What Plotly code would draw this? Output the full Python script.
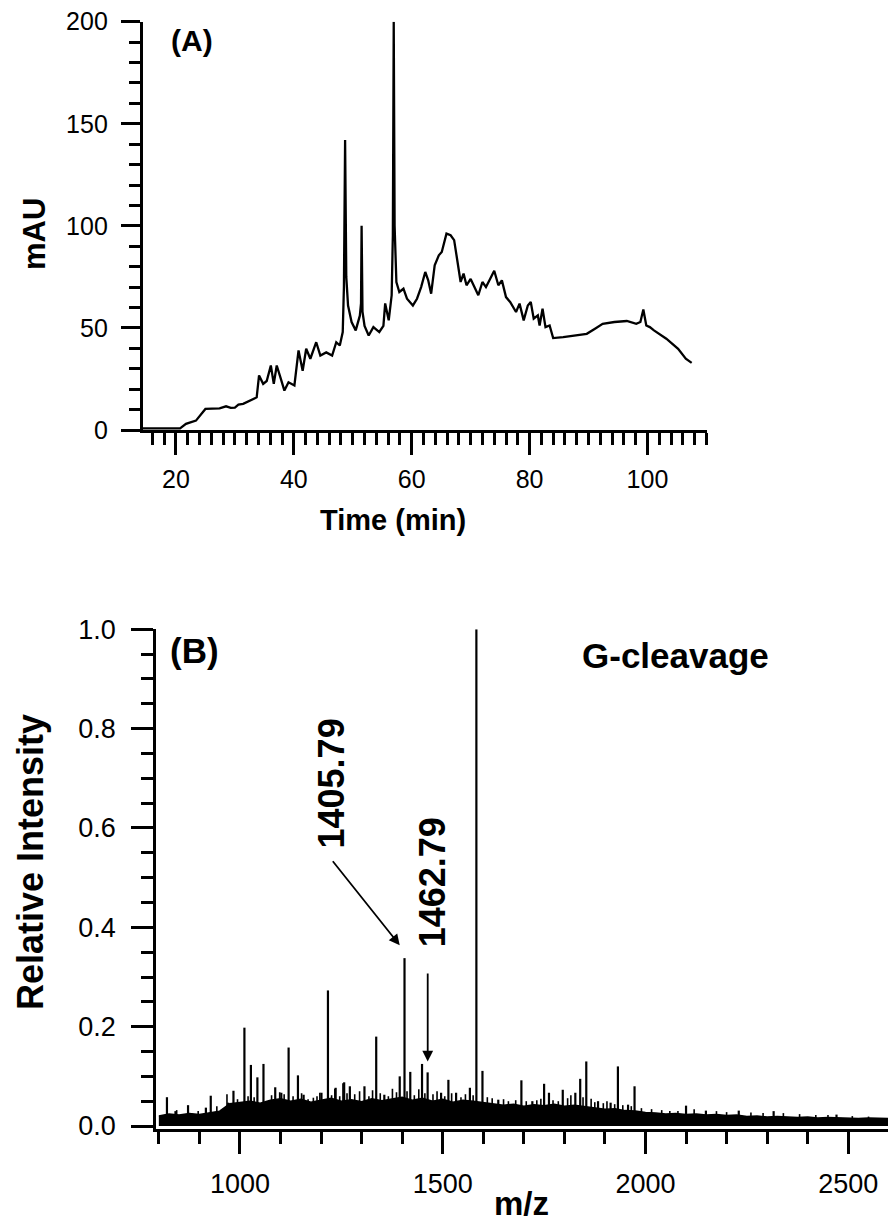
import plotly.graph_objects as go

# ---------------- Data: panel A (chromatogram) ----------------
time_min = [14.4, 16.0, 18.0, 20.0, 20.7, 21.7, 23.4, 25.0, 26.0, 27.4, 28.5, 29.3, 30.0, 30.6,
            31.4, 32.7, 33.7, 34.1, 34.8, 35.4, 36.1, 36.6, 37.1, 37.8, 38.4, 39.1, 40.1, 40.8,
            41.5, 42.1, 42.8, 43.8, 44.5, 45.5, 46.5, 47.2, 47.8, 48.3, 48.5, 48.7, 48.9, 49.2,
            49.8, 50.5, 51.2, 51.4, 51.5, 51.65, 52.0, 52.7, 53.5, 54.5, 55.2, 55.5, 56.1, 56.6,
            56.8, 56.95, 57.1, 57.4, 57.9, 58.6, 59.2, 60.2, 60.9, 61.6, 62.3, 62.8, 63.3, 63.9,
            64.6, 65.1, 65.5, 65.9, 66.6, 67.2, 67.6, 68.3, 68.8, 69.3, 70.0, 70.6, 71.3, 72.0,
            72.6, 73.3, 74.0, 74.7, 75.3, 76.0, 76.7, 77.7, 78.3, 79.0, 79.7, 80.2, 80.7, 81.4,
            81.7, 82.2, 82.7, 83.4, 84.0, 85.7, 87.7, 89.7, 91.1, 92.4, 94.4, 96.5, 98.1, 98.8,
            99.3, 99.8, 100.4, 101.1, 103.2, 105.2, 106.5, 107.5]
mau = [0.8, 0.8, 0.6, 0.5, 0.8, 3.0, 4.6, 10.3, 10.3, 10.6, 11.6, 10.8, 11.0, 12.4,
       12.8, 14.4, 16.0, 26.7, 22.6, 24.0, 31.6, 22.6, 31.6, 25.0, 19.3, 23.4, 21.8, 39.0,
       29.0, 39.8, 34.9, 43.0, 36.5, 38.0, 36.5, 43.0, 41.4, 48.0, 70.0, 142.0, 75.0, 61.0,
       52.9, 48.8, 56.0, 62.0, 100.0, 58.0, 51.0, 46.3, 50.4, 48.0, 51.0, 62.0, 53.7, 66.0,
       95.0, 200.0, 100.0, 72.5, 67.6, 69.2, 64.3, 61.0, 64.3, 70.0, 77.4, 73.3, 66.8, 80.7,
       85.6, 87.2, 92.0, 96.2, 95.4, 93.0, 85.6, 72.5, 76.6, 70.9, 74.0, 70.0, 66.0, 72.5,
       70.0, 74.0, 78.0, 70.9, 73.3, 65.1, 62.7, 57.8, 61.9, 53.7, 61.0, 62.7, 54.5, 56.1,
       51.2, 59.4, 50.4, 51.2, 45.0, 45.5, 46.3, 47.1, 49.6, 52.0, 52.9, 53.4, 52.0, 52.9,
       59.0, 51.2, 50.4, 48.8, 44.7, 39.8, 34.9, 32.9]

# ---------------- Data: panel B (mass spectrum) ----------------
# dense baseline envelope (upper edge of the black band)
env_mz = [800, 825, 850, 875, 900, 925, 950, 975, 1000, 1025, 1050, 1075, 1100, 1125, 1150,
          1175, 1200, 1225, 1250, 1275, 1300, 1325, 1350, 1375, 1400, 1425, 1450, 1475, 1500,
          1525, 1550, 1575, 1600, 1625, 1650, 1675, 1700, 1725, 1750, 1775, 1800, 1825, 1850,
          1875, 1900, 1925, 1950, 1975, 2000, 2025, 2050, 2075, 2100, 2125, 2150, 2175, 2200,
          2225, 2250, 2275, 2300, 2325, 2350, 2375, 2400, 2425, 2450, 2475, 2500, 2525, 2550,
          2575, 2600]
env_int = [0.020, 0.024, 0.022, 0.025, 0.023, 0.027, 0.030, 0.045, 0.048, 0.050, 0.046, 0.052,
           0.055, 0.050, 0.054, 0.048, 0.052, 0.056, 0.050, 0.053, 0.049, 0.055, 0.051, 0.054,
           0.058, 0.052, 0.056, 0.050, 0.054, 0.048, 0.052, 0.050, 0.047, 0.045, 0.042, 0.044,
           0.040, 0.043, 0.041, 0.044, 0.040, 0.042, 0.039, 0.036, 0.034, 0.035, 0.031, 0.030,
           0.027, 0.026, 0.024, 0.025, 0.023, 0.024, 0.022, 0.023, 0.021, 0.022, 0.019, 0.020,
           0.018, 0.019, 0.018, 0.017, 0.018, 0.016, 0.017, 0.016, 0.016, 0.015, 0.016, 0.015,
           0.015]

# labelled / prominent peaks (m/z, relative intensity)
peak_mz = [820, 841, 872, 916, 928, 971, 984, 1011, 1027, 1043, 1058, 1087, 1102, 1120, 1143,
           1157, 1201, 1217, 1236, 1257, 1271, 1307, 1336, 1356, 1394, 1405.79, 1420, 1449,
           1462.79, 1496, 1514, 1533, 1567, 1583, 1598, 1637, 1694, 1721, 1750, 1762, 1796,
           1827, 1839, 1854, 1883, 1914, 1932, 1957, 1973, 2100, 2149, 2230, 2316, 2471]
peak_int = [0.058, 0.030, 0.042, 0.037, 0.061, 0.047, 0.071, 0.198, 0.123, 0.098, 0.125, 0.078,
            0.067, 0.158, 0.102, 0.063, 0.067, 0.273, 0.077, 0.088, 0.080, 0.080, 0.180, 0.063,
            0.100, 0.338, 0.109, 0.125, 0.108, 0.067, 0.093, 0.067, 0.077, 1.000, 0.111, 0.053,
            0.092, 0.050, 0.085, 0.067, 0.073, 0.067, 0.095, 0.130, 0.050, 0.047, 0.120, 0.043,
            0.080, 0.041, 0.031, 0.031, 0.030, 0.023]

# small hair-like peaks on top of the dense band
minor_mz = [844, 897, 943, 968, 994, 1020, 1035, 1069, 1078, 1098, 1109, 1131, 1152, 1168,
            1181, 1190, 1197, 1226, 1234, 1246, 1254, 1264, 1283, 1295, 1318, 1327, 1346, 1366,
            1376, 1386, 1412, 1430, 1441, 1456, 1476, 1486, 1505, 1522, 1545, 1556, 1575, 1610,
            1622, 1650, 1662, 1680, 1706, 1732, 1742, 1772, 1785, 1808, 1816, 1846, 1866, 1875,
            1896, 1905, 1924, 1944, 1965, 1990, 2015, 2040, 2060, 2080, 2120, 2175, 2200, 2260,
            2290, 2340, 2380, 2420, 2450, 2510, 2550]
minor_int = [0.032, 0.030, 0.040, 0.064, 0.054, 0.060, 0.058, 0.050, 0.062, 0.068, 0.064, 0.060,
             0.066, 0.054, 0.057, 0.060, 0.067, 0.062, 0.075, 0.060, 0.086, 0.066, 0.064, 0.070,
             0.060, 0.072, 0.066, 0.060, 0.075, 0.068, 0.070, 0.062, 0.074, 0.066, 0.064, 0.070,
             0.060, 0.066, 0.058, 0.064, 0.062, 0.058, 0.056, 0.054, 0.050, 0.052, 0.050, 0.052,
             0.055, 0.052, 0.050, 0.056, 0.062, 0.058, 0.055, 0.048, 0.046, 0.050, 0.044, 0.042,
             0.040, 0.036, 0.034, 0.032, 0.030, 0.030, 0.034, 0.030, 0.028, 0.027, 0.026, 0.026,
             0.024, 0.022, 0.022, 0.020, 0.019]

# ---------------- Layout helpers (pixel geometry) ----------------
W, H = 888, 1227
FONT = "Liberation Sans, Arial, sans-serif"


def px_x(p):
    return p / W


def px_y(p):
    return 1 - p / H


fig = go.Figure()

fig.add_trace(go.Scatter(x=time_min, y=mau, mode="lines",
                         line=dict(color="black", width=2.3), xaxis="x", yaxis="y",
                         showlegend=False, hoverinfo="skip"))

fig.add_trace(go.Scatter(x=env_mz, y=env_int, mode="lines", fill="tozeroy",
                         fillcolor="black", line=dict(color="black", width=1.5),
                         xaxis="x2", yaxis="y2", showlegend=False, hoverinfo="skip"))


def sticks(mz_list, int_list):
    sx, sy = [], []
    for m, h in zip(mz_list, int_list):
        sx += [m, m, None]
        sy += [0, h, None]
    return sx, sy


mx, my = sticks(minor_mz, minor_int)
fig.add_trace(go.Scatter(x=mx, y=my, mode="lines",
                         line=dict(color="black", width=1.6), xaxis="x2", yaxis="y2",
                         showlegend=False, hoverinfo="skip"))

px_, py_ = sticks(peak_mz, peak_int)
fig.add_trace(go.Scatter(x=px_, y=py_, mode="lines",
                         line=dict(color="black", width=2.2), xaxis="x2", yaxis="y2",
                         showlegend=False, hoverinfo="skip"))

axis_common = dict(showline=True, linecolor="black", linewidth=2.8, ticks="outside",
                   tickcolor="black", tickwidth=2.5, showgrid=False, zeroline=False,
                   automargin=False, mirror=False)

fig.update_layout(
    width=W, height=H, margin=dict(l=0, r=0, t=0, b=0),
    paper_bgcolor="white", plot_bgcolor="white",
    font=dict(family=FONT, color="black"),
    xaxis=dict(**axis_common, domain=[px_x(142.7), px_x(706.7)], range=[14.36, 110.05],
               anchor="y", dtick=20, tick0=0, ticklen=22,
               tickfont=dict(size=25, family=FONT), ticklabelstandoff=3,
               minor=dict(dtick=2, tick0=0, ticklen=12, tickwidth=2.5, tickcolor="black",
                          ticks="outside")),
    yaxis=dict(**axis_common, domain=[px_y(430), px_y(21.7)], range=[0, 200],
               anchor="x", dtick=50, tick0=0, ticklen=19,
               tickfont=dict(size=25, family=FONT), ticklabelstandoff=8,
               minor=dict(dtick=10, tick0=0, ticklen=11, tickwidth=2.5, tickcolor="black",
                          ticks="outside")),
    xaxis2=dict(**axis_common, domain=[px_x(156), 1.0], range=[793, 2598],
                anchor="y2", dtick=500, tick0=0, ticklen=22,
                tickfont=dict(size=27, family=FONT), ticklabelstandoff=7,
                minor=dict(dtick=100, tick0=0, ticklen=12, tickwidth=2.5, tickcolor="black",
                           ticks="outside")),
    yaxis2=dict(**axis_common, domain=[px_y(1129), px_y(629.3)], range=[-0.006, 1.0],
                anchor="x2", dtick=0.2, tick0=0, tickformat=".1f", ticklen=22,
                tickfont=dict(size=27, family=FONT), ticklabelstandoff=10,
                minor=dict(dtick=0.05, tick0=0, ticklen=12, tickwidth=2.5, tickcolor="black",
                           ticks="outside")),
)


def bold(s):
    return "<b>" + s + "</b>"


C = dict(xanchor="center", yanchor="middle", showarrow=False)

ann = [
    # panel labels
    dict(text=bold("(A)"), x=22.7, y=190.9, xref="x", yref="y",
         font=dict(size=30, family=FONT), **C),
    dict(text=bold("(B)"), x=887, y=0.958, xref="x2", yref="y2",
         font=dict(size=35, family=FONT), **C),
    dict(text=bold("G-cleavage"), x=2075, y=0.948, xref="x2", yref="y2",
         font=dict(size=35, family=FONT), **C),
    dict(text=bold("1405.79"), x=1225, y=0.69, xref="x2", yref="y2",
         textangle=-90, font=dict(size=36, family=FONT), **C),
    dict(text=bold("1462.79"), x=1474, y=0.491, xref="x2", yref="y2",
         textangle=-90, font=dict(size=36, family=FONT), **C),
    # arrows
    dict(text="", x=1394, y=0.364, ax=1226, ay=0.536, xref="x2", yref="y2",
         axref="x2", ayref="y2", showarrow=True, arrowhead=2, arrowsize=1.2,
         arrowwidth=1.8, arrowcolor="black", standoff=0, startstandoff=0),
    dict(text="", x=1463, y=0.13, ax=1463, ay=0.31, xref="x2", yref="y2",
         axref="x2", ayref="y2", showarrow=True, arrowhead=2, arrowsize=1.2,
         arrowwidth=1.8, arrowcolor="black", standoff=0, startstandoff=0),
    # axis titles
    dict(text=bold("Time (min)"), x=px_x(393), y=px_y(520), xref="paper", yref="paper",
         font=dict(size=29, family=FONT), **C),
    dict(text=bold("mAU"), x=px_x(34), y=px_y(234), xref="paper", yref="paper",
         textangle=-90, font=dict(size=31, family=FONT), **C),
    dict(text=bold("Relative Intensity"), x=px_x(30), y=px_y(862), xref="paper",
         yref="paper", textangle=-90, font=dict(size=36, family=FONT), **C),
    dict(text=bold("m/z"), x=px_x(521), y=px_y(1203), xref="paper", yref="paper",
         font=dict(size=33, family=FONT), **C),
]
fig.update_layout(annotations=ann)

fig.write_html("out.html")
